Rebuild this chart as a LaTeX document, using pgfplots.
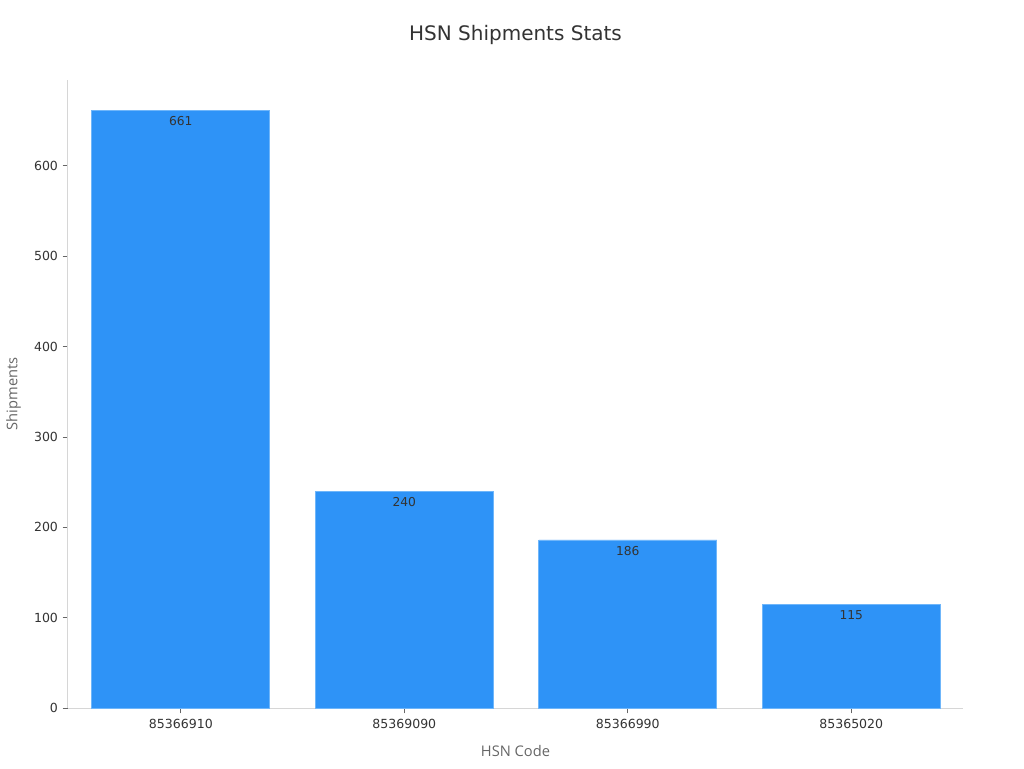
\documentclass[border=0pt]{standalone}
\usepackage{pgfplots}
\pgfplotsset{compat=1.18}
\usepackage{fontspec}
\setmainfont{DejaVu Sans}
\newfontfamily\labelfont{Open Sans}
\definecolor{barblue}{HTML}{2E93F7}
\definecolor{baredge}{HTML}{6FB6FA}
\definecolor{axisgray}{HTML}{D6D6D6}
\definecolor{txtgray}{HTML}{333333}
\definecolor{lblgray}{HTML}{666666}
\begin{document}
\begin{tikzpicture}[x=0.75pt,y=0.75pt]
\path[use as bounding box] (-68,-60) rectangle (956,708);
\begin{axis}[
  at={(0,0)}, anchor=south west,
  scale only axis,
  width=671.25pt, height=471pt,
  xmin=-0.505, xmax=3.5,
  ymin=0, ymax=695,
  xtick=data,
  xticklabels={85366910,85369090,85366990,85365020},
  ytick={0,100,...,600},
  axis x line*=bottom, axis y line*=left,
  axis line style={draw=axisgray, line width=0.75pt},
  every tick/.style={lblgray, line width=0.6pt},
  major tick length=4pt,
  tick align=outside,
  tick label style={font=\fontsize{9.4}{10}\selectfont, text=txtgray},
  xticklabel style={yshift=-0.8pt},
  /pgf/number format/assume math mode=true,
  xlabel={\labelfont HSN Code},
  ylabel={\labelfont Shipments},
  xlabel style={font=\fontsize{11}{12}\selectfont, text=lblgray, at={(ticklabel cs:0.5)}, yshift=-5.5pt},
  ylabel style={font=\fontsize{11}{12}\selectfont, text=lblgray, yshift=3pt},
  title={HSN Shipments Stats},
  title style={font=\fontsize{15}{17}\selectfont, text=txtgray, yshift=17.3pt},
  ybar, bar width=133.5pt, bar shift=0pt,
  nodes near coords,
  every node near coord/.append style={font=\fontsize{9.2}{10}\selectfont, text=txtgray, anchor=north, yshift=-1pt},
]
\addplot[fill=barblue, draw=baredge, line width=0.6pt] coordinates {
  (0,661) (1,240) (2,186) (3,115)
};
\end{axis}
\end{tikzpicture}
\end{document}
